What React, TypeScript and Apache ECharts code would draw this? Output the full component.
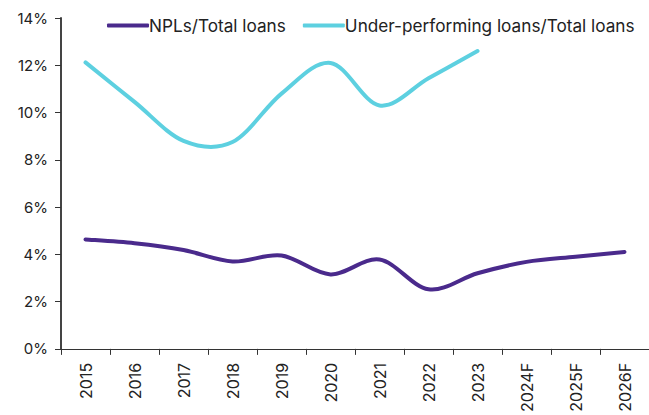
import React, { useEffect, useRef } from "react";
import * as echarts from "echarts";

const categories = ["2015", "2016", "2017", "2018", "2019", "2020", "2021", "2022", "2023", "2024F", "2025F", "2026F"];
const nplRatio = [4.63, 4.47, 4.18, 3.7, 3.95, 3.15, 3.78, 2.52, 3.2, 3.68, 3.9, 4.1];
const underPerformingRatio = [12.12, 10.45, 8.8, 8.75, 10.8, 12.1, 10.3, 11.45, 12.6, null, null, null];
const yTicks = { min: 0, max: 14, interval: 2 };

const NPL_COLOR = "#4a2a8c";
const UPL_COLOR = "#5dd0e0";

// Catmull-Rom style smoothing (like spreadsheet "smoothed line")
function smoothPath(pts: number[][]): string {
  if (!pts.length) return "";
  let d = `M${pts[0][0]},${pts[0][1]}`;
  for (let i = 0; i < pts.length - 1; i++) {
    const p0 = pts[i - 1] || pts[i];
    const p1 = pts[i];
    const p2 = pts[i + 1];
    const p3 = pts[i + 2] || p2;
    const c1x = p1[0] + (p2[0] - p0[0]) / 6;
    const c1y = p1[1] + (p2[1] - p0[1]) / 6;
    const c2x = p2[0] - (p3[0] - p1[0]) / 6;
    const c2y = p2[1] - (p3[1] - p1[1]) / 6;
    d += ` C${c1x},${c1y} ${c2x},${c2y} ${p2[0]},${p2[1]}`;
  }
  return d;
}

function makeSeries(name: string, values: (number | null)[], color: string) {
  const data = values
    .map((v, i) => (v == null ? null : [i, v]))
    .filter((x) => x !== null) as number[][];
  return {
    name,
    type: "custom",
    data,
    encode: { x: 0, y: 1 },
    itemStyle: { color },
    renderItem: (params: any, api: any) => {
      if (params.dataIndex !== 0) return null;
      const pts = data.map((p) => api.coord([p[0], p[1]]));
      return {
        type: "path",
        shape: { pathData: smoothPath(pts) },
        style: { stroke: color, lineWidth: 4, fill: "none", lineCap: "round", lineJoin: "round" },
      };
    },
  };
}

export default function App() {
  const ref = useRef<HTMLDivElement>(null);
  useEffect(() => {
    if (!ref.current) return;
    const chart = echarts.init(ref.current, null, { renderer: "svg" });
    const font = "Inter";
    chart.setOption({
      animation: false,
      textStyle: { fontFamily: font },
      grid: { left: 61, right: 0, top: 18, bottom: 66, containLabel: false },
      legend: {
        top: 12,
        left: 102,
        itemGap: 17,
        itemWidth: 42,
        itemHeight: 4,
        icon: "roundRect",
        textStyle: { fontSize: 17.2, color: "#222", fontFamily: font, padding: [0, 0, 0, -5] },
        data: [
          { name: "NPLs/Total loans", itemStyle: { color: NPL_COLOR } },
          { name: "Under-performing loans/Total loans", itemStyle: { color: UPL_COLOR } },
        ],
      },
      xAxis: {
        type: "category",
        data: categories,
        boundaryGap: true,
        axisLine: { lineStyle: { color: "#333", width: 1 } },
        axisTick: { show: true, alignWithLabel: false, length: 6, lineStyle: { color: "#333" } },
        axisLabel: { rotate: 90, fontSize: 16, color: "#222", margin: 14, fontFamily: font, interval: 0 },
      },
      yAxis: {
        type: "value",
        min: yTicks.min,
        max: yTicks.max,
        interval: yTicks.interval,
        splitLine: { show: false },
        axisLine: { show: true, lineStyle: { color: "#444", width: 2 } },
        axisTick: { show: true, length: 6, lineStyle: { color: "#333" } },
        axisLabel: { formatter: "{value}%", fontSize: 15, color: "#222", margin: 13, fontFamily: font },
      },
      series: [
        makeSeries("NPLs/Total loans", nplRatio, NPL_COLOR),
        makeSeries("Under-performing loans/Total loans", underPerformingRatio, UPL_COLOR),
      ],
    });
    return () => chart.dispose();
  }, []);
  return <div ref={ref} style={{ width: 649, height: 415, position: "absolute", left: 0, top: 0 }} />;
}
